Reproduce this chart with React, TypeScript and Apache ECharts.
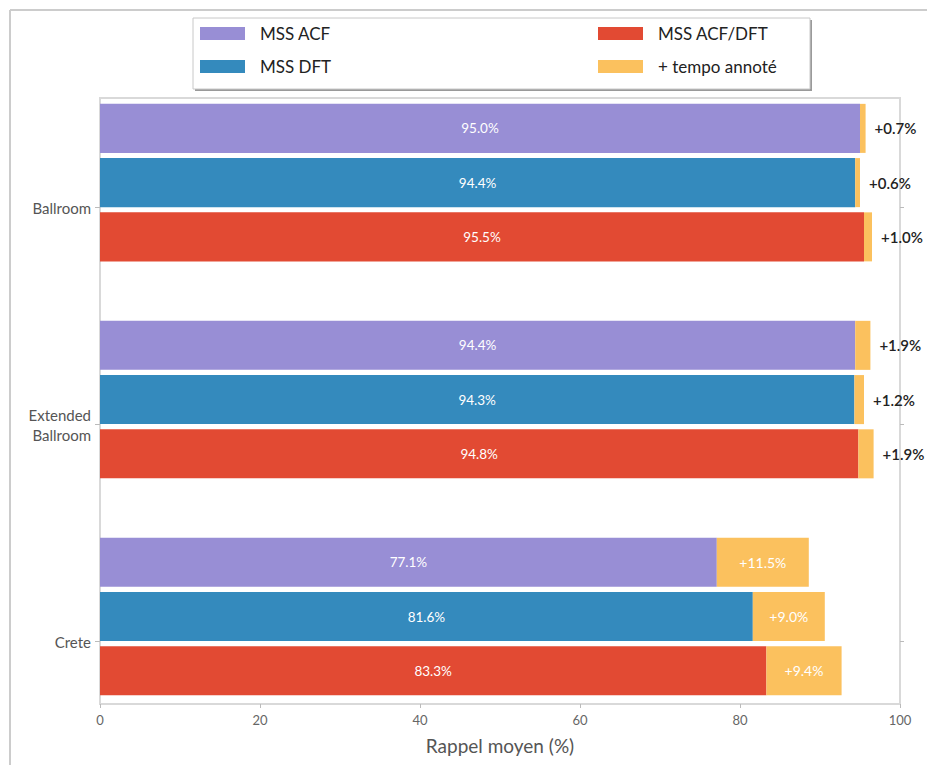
import React, { useEffect, useRef } from "react";
import * as echarts from "echarts";

const categories = ["Ballroom", "Extended\nBallroom", "Crete"];
const methods = ["MSS ACF", "MSS DFT", "MSS ACF/DFT"];
const tempoName = "+ tempo annoté";
const baseAcf = [95.0, 94.4, 77.1];
const baseDft = [94.4, 94.3, 81.6];
const baseAcfDft = [95.5, 94.8, 83.3];
const gainAcf = [0.7, 1.9, 11.5];
const gainDft = [0.6, 1.2, 9.0];
const gainAcfDft = [1.0, 1.9, 9.4];
const xTicks = [0, 20, 40, 60, 80, 100];
const xAxisName = "Rappel moyen (%)";

const COLORS = ["#988ED5", "#348ABD", "#E24A33"];
const TEMPO_COLOR = "#FBC15E";
const OFFSETS = [-0.365, -0.115, 0.135];
const BAR_H = 0.226;
const FONT = "Lato, 'Open Sans', sans-serif";

const bases = [baseAcf, baseDft, baseAcfDft];
const gains = [gainAcf, gainDft, gainAcfDft];

function rectFor(api: any, xs: number, xe: number, yc: number) {
  const a = api.coord([xs, yc - BAR_H / 2]);
  const b = api.coord([xe, yc + BAR_H / 2]);
  return {
    x: Math.min(a[0], b[0]),
    y: Math.min(a[1], b[1]),
    width: Math.abs(b[0] - a[0]),
    height: Math.abs(b[1] - a[1]),
  };
}

export default function App() {
  const ref = useRef<HTMLDivElement>(null);
  useEffect(() => {
    document.body.style.margin = "0";
    const chart = echarts.init(ref.current!, null, { renderer: "svg" });

    const baseSeries = methods.map((name, m) => ({
      type: "custom",
      name,
      itemStyle: { color: COLORS[m] },
      encode: { x: [0, 1], y: 2 },
      data: categories.map((_, i) => [0, bases[m][i], i]),
      renderItem: (params: any, api: any) => {
        const xs = api.value(0);
        const xe = api.value(1);
        const yc = api.value(2) + OFFSETS[m];
        const r = rectFor(api, xs, xe, yc);
        return {
          type: "group",
          children: [
            { type: "rect", shape: r, style: { fill: COLORS[m] } },
            {
              type: "text",
              style: {
                text: xe.toFixed(1) + "%",
                x: r.x + r.width / 2,
                y: r.y + r.height / 2,
                align: "center",
                verticalAlign: "middle",
                fill: "#ffffff",
                fontSize: 13.5,
                fontFamily: FONT,
              },
            },
          ],
        };
      },
    }));

    const tempoData: number[][] = [];
    categories.forEach((_, i) => {
      methods.forEach((__, m) => {
        tempoData.push([bases[m][i], bases[m][i] + gains[m][i], i, m, gains[m][i]]);
      });
    });

    const tempoSeries = {
      type: "custom",
      name: tempoName,
      itemStyle: { color: TEMPO_COLOR },
      encode: { x: [0, 1], y: 2 },
      data: tempoData,
      renderItem: (params: any, api: any) => {
        const xs = api.value(0);
        const xe = api.value(1);
        const m = api.value(3);
        const g = api.value(4);
        const yc = api.value(2) + OFFSETS[m];
        const r = rectFor(api, xs, xe, yc);
        const inside = g > 5;
        return {
          type: "group",
          children: [
            { type: "rect", shape: r, style: { fill: TEMPO_COLOR } },
            {
              type: "text",
              style: {
                text: "+" + g.toFixed(1) + "%",
                x: inside ? r.x + r.width / 2 : r.x + r.width + 9,
                y: r.y + r.height / 2,
                align: inside ? "center" : "left",
                verticalAlign: "middle",
                fill: inside ? "#ffffff" : "#222222",
                fontSize: inside ? 14 : 15,
                fontWeight: inside ? "normal" : 600,
                fontFamily: FONT,
              },
            },
          ],
        };
      },
    };

    const yMin = -0.505;
    const yMax = 2.288;

    const legendCommon = {
      orient: "vertical",
      top: 25,
      padding: 0,
      itemWidth: 45,
      itemHeight: 13,
      itemGap: 16,
      icon: "rect",
      z: 10,
      textStyle: { fontSize: 17, color: "#222", fontFamily: FONT, padding: [0, 0, 0, 10] },
    };

    chart.setOption({
      animation: false,
      backgroundColor: "#ffffff",
      textStyle: { fontFamily: FONT },
      grid: {
        left: 100,
        right: 27,
        top: 98,
        bottom: 61,
        show: true,
        borderColor: "#d9d9d9",
        borderWidth: 2,
        containLabel: false,
      },
      graphic: {
        elements: [
          { type: "line", z: 0, shape: { x1: 10, y1: 10, x2: 927, y2: 10 }, style: { stroke: "#cccccc", lineWidth: 2 } },
          { type: "line", z: 0, shape: { x1: 10, y1: 10, x2: 10, y2: 765 }, style: { stroke: "#cccccc", lineWidth: 2 } },
          { type: "rect", z: 0, shape: { x: 195, y: 20, width: 617, height: 71 }, style: { fill: "#9a9a9a" } },
          { type: "rect", z: 1, shape: { x: 193, y: 18, width: 617, height: 71 }, style: { fill: "#ffffff", stroke: "#c8c8c8", lineWidth: 1 } },
        ],
      },
      legend: [
        { ...legendCommon, data: [methods[0], methods[1]], left: 200 },
        { ...legendCommon, data: [methods[2], tempoName], left: 598 },
      ],
      xAxis: {
        type: "value",
        min: xTicks[0],
        max: xTicks[xTicks.length - 1],
        interval: xTicks[1] - xTicks[0],
        name: xAxisName,
        nameLocation: "middle",
        nameGap: 32,
        nameTextStyle: { fontSize: 19, color: "#555", fontFamily: FONT },
        splitLine: { show: false },
        axisLine: { show: true, onZero: false, lineStyle: { color: "#d9d9d9", width: 2 } },
        axisTick: { show: true, length: 4, lineStyle: { color: "#bbbbbb" } },
        axisLabel: { fontSize: 13, color: "#666", margin: 9, fontFamily: FONT },
      },
      yAxis: [
        {
          type: "value",
          inverse: true,
          min: yMin,
          max: yMax,
          position: "left",
          splitLine: { show: false },
          axisLine: { show: true, onZero: false, lineStyle: { color: "#d9d9d9", width: 2 } },
          axisTick: { show: true, length: 5, customValues: [0, 1, 2], lineStyle: { color: "#bbbbbb" } },
          axisLabel: {
            customValues: [0, 1, 2],
            formatter: (v: number) => categories[Math.round(v)] ?? "",
            fontSize: 15,
            color: "#555",
            margin: 9,
            fontFamily: FONT,
            lineHeight: 20,
          },
        },
        {
          type: "value",
          inverse: true,
          min: yMin,
          max: yMax,
          position: "right",
          splitLine: { show: false },
          axisLine: { show: true, onZero: false, lineStyle: { color: "#d9d9d9", width: 2 } },
          axisTick: { show: true, length: 4, customValues: [0, 1, 2], lineStyle: { color: "#bbbbbb" } },
          axisLabel: { show: false },
        },
      ],
      series: [...baseSeries, tempoSeries],
    });
    return () => chart.dispose();
  }, []);
  return <div ref={ref} style={{ width: 927, height: 765 }} />;
}
